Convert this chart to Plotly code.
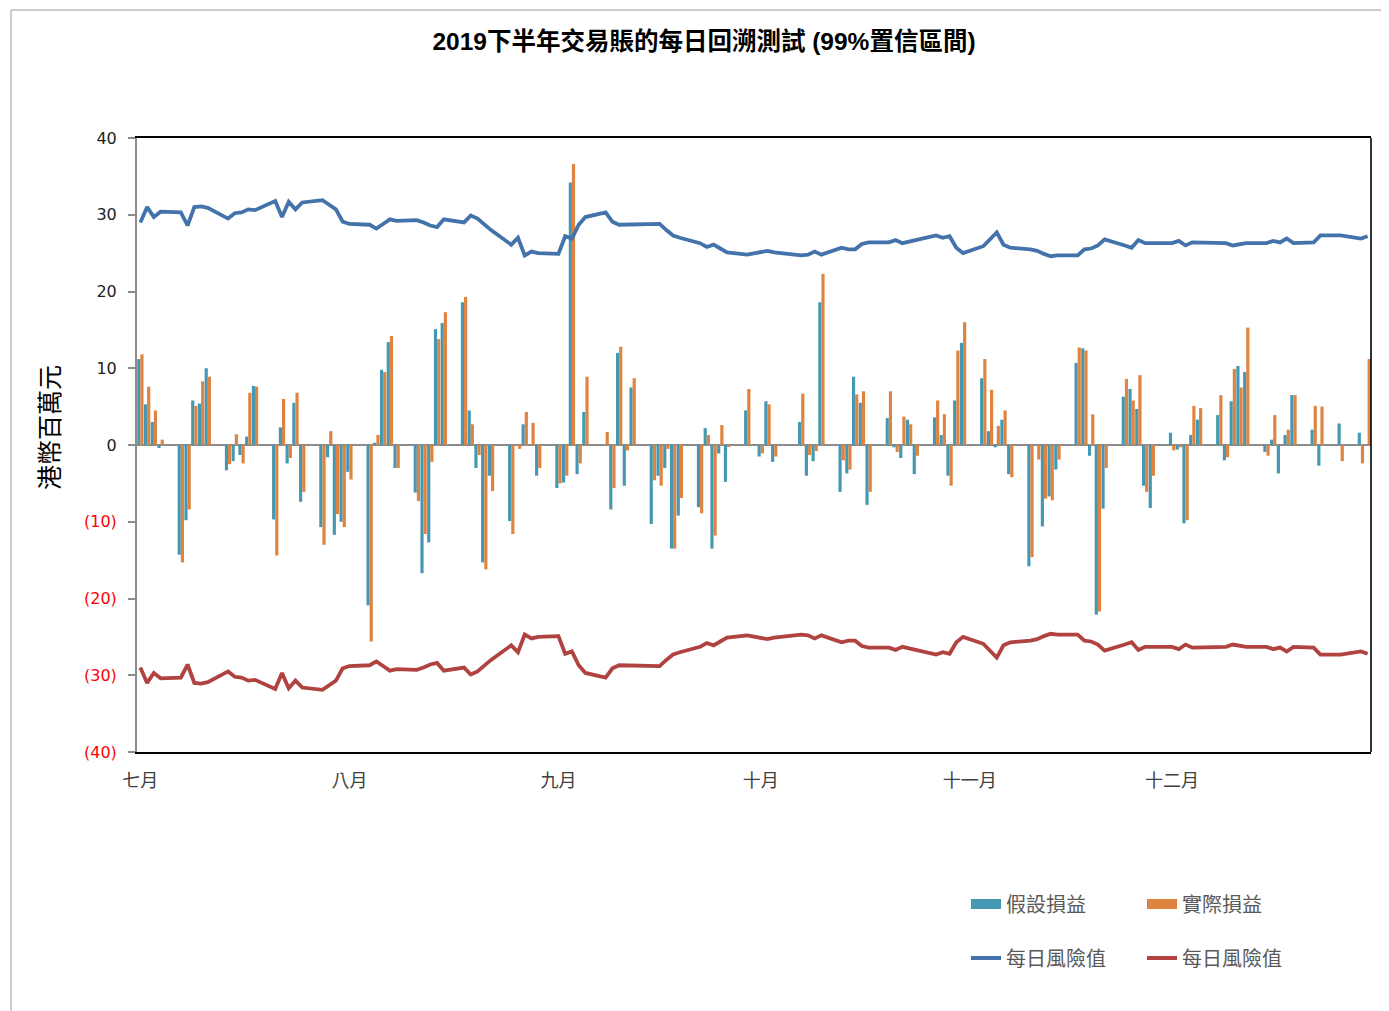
import plotly.graph_objects as go

# ---------------- data ----------------
month_labels = ["七月", "八月", "九月", "十月", "十一月", "十二月"]
tick_dates = ["2019-07-02", "2019-08-02", "2019-09-02", "2019-10-02", "2019-11-02", "2019-12-02"]

jul_days = [2, 3, 4, 5, 8, 9, 10, 11, 12, 15, 16, 17, 18, 19, 22, 23, 24, 25, 26, 29, 30, 31]
aug_days = [1, 2, 5, 6, 7, 8, 9, 12, 13, 14, 15, 16, 19, 20, 21, 22, 23, 26, 27, 28, 29, 30]
sep_days = [2, 3, 4, 5, 6, 9, 10, 11, 12, 13, 16, 17, 18, 19, 20, 23, 24, 25, 26, 27, 30]
oct_days = [2, 3, 4, 8, 9, 10, 11, 14, 15, 16, 17, 18, 21, 22, 23, 24, 25, 28, 29, 30, 31]
nov_days = [1, 4, 5, 6, 7, 8, 11, 12, 13, 14, 15, 18, 19, 20, 21, 22, 25, 26, 27, 28, 29]
dec_days = [2, 3, 4, 5, 6, 9, 10, 11, 12, 13, 16, 17, 18, 19, 20, 23, 24, 27, 30, 31]

# 假設損益 (hypothetical P&L)
hyp_jul = [11.2, 5.3, 3.0, -0.4, -14.3, -9.8, 5.8, 5.4, 10.0, -3.3, -2.1, -1.3, 1.1, 7.7, -9.7, 2.3, -2.4, 5.5, -7.4, -10.7, -1.6, -11.7]
hyp_aug = [-10.0, -3.5, -20.9, 0.3, 9.8, 13.4, -3.0, -6.2, -16.7, -12.7, 15.1, 15.9, 18.6, 4.5, -3.0, -15.3, -4.0, -9.9, 0.0, 2.7, 0.0, -4.0]
hyp_sep = [-5.6, -4.9, 34.2, -3.8, 4.3, 0.0, -8.4, 12.0, -5.3, 7.5, -10.3, -4.0, -3.0, -13.5, -9.2, -8.1, 2.2, -13.5, -1.1, -4.8, 4.5]
hyp_oct = [-1.5, 5.7, -2.2, 3.0, -4.0, -2.1, 18.6, -6.1, -3.7, 8.9, 5.5, -7.8, 3.5, -0.3, -1.7, 3.3, -3.8, 3.6, 1.3, -4.0, 5.8]
hyp_nov = [13.3, 8.7, 1.8, -0.3, 3.3, -3.8, -15.8, 0.0, -10.6, -6.7, -3.2, 10.7, 12.6, -1.4, -22.1, -8.3, 6.3, 7.3, 4.7, -5.3, -8.2]
hyp_dec = [1.6, -0.6, -10.2, 1.3, 3.3, 3.9, -2.0, 5.7, 10.3, 9.5, -0.9, 0.7, -3.7, 1.3, 6.5, 2.0, -2.7, 2.8, 1.6, 0.0]

# 實際損益 (actual P&L)
act_jul = [11.8, 7.6, 4.5, 0.7, -15.3, -8.4, 5.1, 8.3, 8.9, -2.5, 1.4, -2.4, 6.8, 7.6, -14.4, 6.0, -1.7, 6.8, -6.1, -13.0, 1.8, -9.0]
act_aug = [-10.7, -4.5, -25.6, 1.3, 9.5, 14.2, -3.0, -7.3, -11.6, -2.2, 13.8, 17.3, 19.3, 2.7, -1.3, -16.2, -6.0, -11.6, -0.5, 4.3, 2.9, -3.0]
act_sep = [-5.0, -4.0, 36.6, -2.4, 8.9, 1.7, -5.6, 12.8, -0.7, 8.7, -4.6, -5.3, -0.5, -13.5, -6.9, -8.9, 1.3, -11.8, 2.6, -0.2, 7.3]
act_oct = [-1.1, 5.3, -1.5, 6.7, -1.3, -0.8, 22.3, -2.0, -3.2, 6.6, 7.0, -6.1, 7.0, -0.9, 3.7, 2.7, -1.4, 5.8, 4.0, -5.3, 12.3]
act_nov = [16.0, 11.2, 7.2, 2.5, 4.5, -4.2, -14.6, -1.9, -7.0, -7.2, -1.9, 12.7, 12.3, 4.0, -21.7, -3.0, 8.6, 5.8, 9.1, -6.1, -4.0]
act_dec = [-0.7, -0.3, -9.8, 5.1, 4.8, 6.5, -1.6, 9.9, 7.5, 15.3, -1.4, 3.9, 0.0, 2.0, 6.5, 5.1, 5.0, -2.1, -2.4, 11.2]

# 每日風險值 (daily VaR, 99%)
var_jul = [29.0, 31.0, 29.7, 30.4, 30.3, 28.6, 31.0, 31.1, 30.9, 29.5, 30.2, 30.3, 30.7, 30.6, 31.8, 29.7, 31.7, 30.7, 31.6, 31.9, 31.3, 30.7]
var_aug = [29.1, 28.8, 28.7, 28.2, 28.8, 29.4, 29.2, 29.3, 29.0, 28.6, 28.4, 29.4, 29.0, 29.9, 29.5, 28.7, 28.0, 26.1, 27.0, 24.7, 25.2, 25.0]
var_sep = [24.9, 27.2, 26.9, 28.7, 29.7, 30.3, 29.1, 28.7, 28.7, 28.7, 28.7, 28.8, 28.0, 27.3, 27.0, 26.3, 25.8, 26.1, 25.6, 25.1, 24.8]
var_oct = [25.1, 25.3, 25.1, 24.7, 24.8, 25.2, 24.8, 25.7, 25.5, 25.5, 26.2, 26.4, 26.4, 26.7, 26.3, 26.5, 26.6, 27.3, 27.0, 27.2, 25.7]
var_nov = [25.0, 25.9, 26.8, 27.7, 26.1, 25.7, 25.5, 25.3, 24.9, 24.6, 24.7, 24.7, 25.5, 25.6, 26.0, 26.8, 26.0, 25.7, 26.7, 26.3, 26.3]
var_dec = [26.3, 26.6, 26.0, 26.4, 26.4, 26.3, 26.3, 26.0, 26.2, 26.3, 26.3, 26.6, 26.4, 26.9, 26.3, 26.4, 27.3, 27.3, 26.9, 27.2]

y_ticks = [40, 30, 20, 10, 0, -10, -20, -30, -40]

# ---------------- assemble ----------------
month_days = [(7, jul_days), (8, aug_days), (9, sep_days), (10, oct_days), (11, nov_days), (12, dec_days)]
dates = [f"2019-{m:02d}-{d:02d}" for m, days in month_days for d in days]
hyp = hyp_jul + hyp_aug + hyp_sep + hyp_oct + hyp_nov + hyp_dec
act = act_jul + act_aug + act_sep + act_oct + act_nov + act_dec
var_up = var_jul + var_aug + var_sep + var_oct + var_nov + var_dec
var_dn = [-v for v in var_up]

TEAL = "#4598B1"
ORANGE = "#DE8340"
BLUE = "#4472AA"
RED = "#B0433F"
GRAY = "#8C8C8C"
LATIN = "DejaVu Sans, Noto Sans CJK TC"
CJK = "Noto Sans CJK TC"

# page has an 8px body margin; figure is laid out 8px up/left of target page coords
W, H = 1381, 1003
PL, PT, PR, PB = 129, 130, 1363, 744   # plot area in figure px
pw, ph = PR - PL, PB - PT


def px_x(x):   # target page x -> paper fraction
    return (x - 8 - PL) / pw


def px_y(y):   # target page y -> paper fraction
    return (PB - (y - 8)) / ph


fig = go.Figure()
fig.add_trace(go.Bar(x=dates, y=hyp, name="假設損益", marker=dict(color=TEAL, line=dict(width=0)),
                     showlegend=False))
fig.add_trace(go.Bar(x=dates, y=act, name="實際損益", marker=dict(color=ORANGE, line=dict(width=0)),
                     showlegend=False))
fig.add_trace(go.Scatter(x=dates, y=var_up, mode="lines", name="每日風險值",
                         line=dict(color=BLUE, width=3.8), legend="legend2"))
fig.add_trace(go.Scatter(x=dates, y=var_dn, mode="lines", name="每日風險值",
                         line=dict(color=RED, width=3.8), legend="legend2"))
# legend swatches for the bar series
fig.add_trace(go.Scatter(x=[None], y=[None], mode="lines", name="假設損益",
                         line=dict(color=TEAL, width=10), legend="legend"))
fig.add_trace(go.Scatter(x=[None], y=[None], mode="lines", name="實際損益",
                         line=dict(color=ORANGE, width=10), legend="legend"))

y_text = [str(v) if v >= 0 else f"<span style='color:#FF0000'>({-v})</span>" for v in y_ticks]

x_range = ["2019-07-01 12:00", "2019-12-31 12:00"]

fig.update_layout(
    width=W, height=H,
    margin=dict(l=PL, r=W - PR, t=PT, b=H - PB),
    paper_bgcolor="white", plot_bgcolor="white",
    barmode="group", bargap=0.06, bargroupgap=0.0,
    title=dict(text="<b>2019下半年交易賬的每日回溯測試 (99%置信區間)</b>",
               x=(704 - 8) / W, xref="container", xanchor="center",
               y=1 - (41 - 8) / H, yref="container", yanchor="middle",
               font=dict(family="Liberation Sans, Noto Sans CJK TC", size=24.5, color="#000000")),
    xaxis=dict(type="date", range=x_range, tickvals=tick_dates, ticktext=month_labels,
               showgrid=False, zeroline=False, showline=True, linecolor="#000000", linewidth=1.6,
               mirror=True, ticks="", ticklabelstandoff=12,
               tickfont=dict(family=CJK, size=18, color="#404040")),
    xaxis2=dict(type="date", range=x_range, overlaying="x", anchor="free", position=0.5,
                tickvals=tick_dates, showticklabels=False,
                ticks="outside", ticklen=6, tickwidth=1.5, tickcolor=GRAY,
                showgrid=False, zeroline=False, showline=False),
    yaxis=dict(range=[-40, 40], tickvals=y_ticks, ticktext=y_text,
               showgrid=False, zeroline=True, zerolinecolor=GRAY, zerolinewidth=2,
               showline=True, linecolor=GRAY, linewidth=2,
               ticks="outside", ticklen=7, tickwidth=1.5, tickcolor=GRAY, ticklabelstandoff=8,
               tickfont=dict(family=LATIN, size=16, color="#222222")),
    annotations=[dict(text="港幣百萬元", textangle=-90, showarrow=False,
                      xref="paper", yref="paper", x=px_x(48), y=px_y(428),
                      xanchor="center", yanchor="middle",
                      font=dict(family=CJK, size=25, color="#000000"))],
    legend=dict(orientation="h", x=px_x(966), xanchor="left",
                y=px_y(904), yanchor="middle",
                entrywidth=131, entrywidthmode="pixels", bgcolor="rgba(0,0,0,0)",
                font=dict(family=CJK, size=20, color="#595959"), tracegroupgap=0),
    legend2=dict(orientation="h", x=px_x(966), xanchor="left",
                 y=px_y(958), yanchor="middle",
                 entrywidth=131, entrywidthmode="pixels", bgcolor="rgba(0,0,0,0)",
                 font=dict(family=CJK, size=20, color="#595959"), tracegroupgap=0),
    shapes=[
        dict(type="line", xref="paper", yref="paper", x0=1, x1=1, y0=0, y1=1,
             line=dict(color="#000000", width=1.6)),
        dict(type="line", xref="paper", yref="paper",
             x0=px_x(11), x1=px_x(11), y0=px_y(10), y1=px_y(1011),
             line=dict(color="#9A9A9A", width=1)),
        dict(type="line", xref="paper", yref="paper",
             x0=px_x(11), x1=px_x(1389), y0=px_y(10), y1=px_y(10),
             line=dict(color="#9A9A9A", width=1)),
    ],
)

fig.write_html("out.html")
